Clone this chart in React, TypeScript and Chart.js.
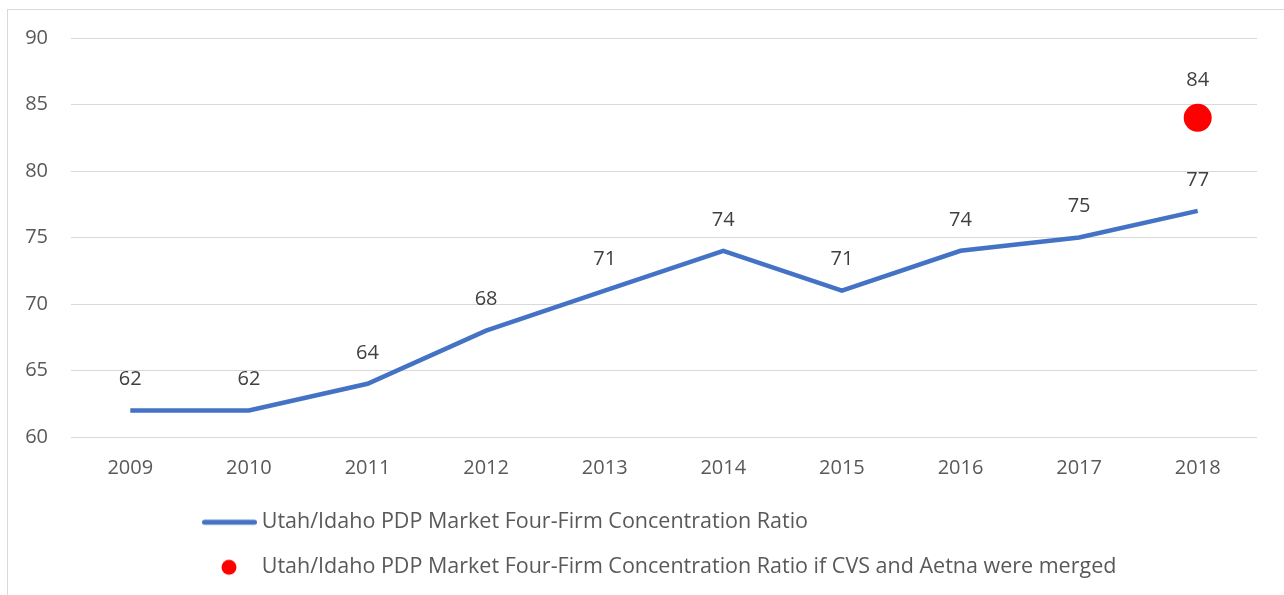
import React, { useEffect, useRef } from "react";
import { Chart, registerables } from "chart.js";

Chart.register(...registerables);

const years = ["2009", "2010", "2011", "2012", "2013", "2014", "2015", "2016", "2017", "2018"];
const ratioValues = [62, 62, 64, 68, 71, 74, 71, 74, 75, 77];
const mergedValues = [null, null, null, null, null, null, null, null, null, 84];
const seriesNames = [
  "Utah/Idaho PDP Market Four-Firm Concentration Ratio",
  "Utah/Idaho PDP Market Four-Firm Concentration Ratio if CVS and Aetna were merged",
];
const yMin = 60;
const yMax = 90;
const yStep = 5;

const FONT = "'Open Sans', 'Noto Sans', sans-serif";
const BLUE = "#4472C4";
const RED = "#FF0000";

function makeLineIcon() {
  const c = document.createElement("canvas");
  c.width = 58;
  c.height = 20;
  const g = c.getContext("2d")!;
  g.strokeStyle = BLUE;
  g.lineWidth = 5;
  g.lineCap = "round";
  g.beginPath();
  g.moveTo(4.5, 10);
  g.lineTo(54.5, 10);
  g.stroke();
  return c;
}

function makeDotIcon() {
  const c = document.createElement("canvas");
  c.width = 58;
  c.height = 20;
  const g = c.getContext("2d")!;
  g.fillStyle = RED;
  g.beginPath();
  g.arc(29, 10, 7.5, 0, Math.PI * 2);
  g.fill();
  return c;
}

const dataLabelPlugin = {
  id: "dataLabels",
  afterDatasetsDraw(chart: any) {
    const ctx = chart.ctx;
    ctx.save();
    ctx.fillStyle = "#404040";
    ctx.font = `20px ${FONT}`;
    ctx.textAlign = "center";
    ctx.textBaseline = "middle";
    chart.data.datasets.forEach((ds: any, di: number) => {
      const meta = chart.getDatasetMeta(di);
      const off = ds.labelOffset || 30;
      meta.data.forEach((el: any, i: number) => {
        const v = ds.data[i];
        if (v === null || v === undefined) return;
        ctx.fillText(String(v), el.x, el.y - off);
      });
    });
    ctx.restore();
  },
};

const legendShiftPlugin = {
  id: "legendShift",
  afterLayout(chart: any) {
    if (chart.legend) chart.legend.left = 175.5;
  },
};

export default function App() {
  const ref = useRef<HTMLCanvasElement>(null);
  useEffect(() => {
    const icons = [makeLineIcon(), makeDotIcon()];
    const chart = new Chart(ref.current!, {
      type: "line",
      data: {
        labels: years,
        datasets: [
          {
            label: seriesNames[0],
            data: ratioValues,
            borderColor: BLUE,
            backgroundColor: BLUE,
            borderWidth: 4.5,
            pointRadius: 0,
            pointHoverRadius: 0,
            tension: 0,
            labelOffset: 31,
          } as any,
          {
            label: seriesNames[1],
            data: mergedValues,
            showLine: false,
            pointRadius: 14,
            pointHoverRadius: 14,
            pointBackgroundColor: RED,
            pointBorderWidth: 0,
            backgroundColor: RED,
            borderColor: RED,
            labelOffset: 38,
          } as any,
        ],
      },
      options: {
        animation: false,
        responsive: false,
        maintainAspectRatio: false,
        layout: { padding: { top: 28, left: 0, right: 27, bottom: 7 } },
        plugins: {
          tooltip: { enabled: false },
          legend: {
            position: "bottom",
            align: "start",
            labels: {
              usePointStyle: true,
              pointStyleWidth: 44,
              padding: 23.5,
              color: "#595959",
              font: { family: FONT, size: 21.5 },
              generateLabels(chart: any) {
                const items = Chart.defaults.plugins.legend.labels.generateLabels(chart);
                items.forEach((it: any, i: number) => {
                  it.pointStyle = icons[i];
                });
                return items;
              },
            },
          },
        },
        scales: {
          x: {
            offset: true,
            grid: { display: false, drawTicks: false },
            border: { display: false },
            ticks: { color: "#595959", font: { family: FONT, size: 20 }, padding: 19, maxRotation: 0 },
            afterFit(scale: any) {
              scale.height = 51;
            },
          },
          y: {
            min: yMin,
            max: yMax,
            grid: { color: "#d9d9d9", lineWidth: 1, drawTicks: false },
            border: { display: false },
            ticks: { stepSize: yStep, color: "#595959", font: { family: FONT, size: 20 }, padding: 23 },
            afterFit(scale: any) {
              scale.width = 63;
              scale.paddingTop = 0;
              scale.paddingBottom = 0;
            },
          },
        },
      },
      plugins: [dataLabelPlugin, legendShiftPlugin],
    });
    return () => chart.destroy();
  }, []);

  return (
    <div
      style={{
        position: "fixed",
        left: 7,
        top: 9,
        width: 1290,
        height: 600,
        borderLeft: "1px solid #d9d9d9",
        borderTop: "1px solid #d9d9d9",
        background: "#fff",
      }}
    >
      <canvas ref={ref} width={1276} height={585} style={{ display: "block" }} />
    </div>
  );
}
